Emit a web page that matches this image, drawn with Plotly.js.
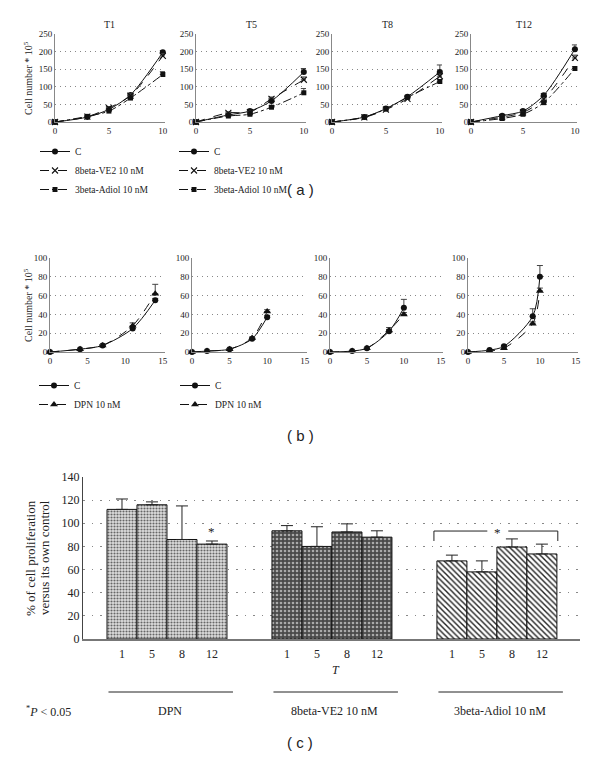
<!DOCTYPE html>
<html><head><meta charset="utf-8">
<script src="https://cdn.plot.ly/plotly-3.0.1.min.js"></script>
<style>html,body{margin:0;padding:0;background:#fff}#chart{width:600px;height:758px}</style>
</head><body><div id="chart"></div>
<script>
// ---------- Panel (a) data ----------
const daysA = [0, 3, 5, 7, 10];
const panelATitles = ['T1', 'T5', 'T8', 'T12'];
const aC     = [[0,14,36,77,198],[0,20,31,60,142],[0,14,38,72,142],[0,18,31,76,207]];
const aCErr  = [[0,2,3,4,5],[0,3,3,5,10],[0,2,3,4,20],[0,3,3,5,12]];
const aVE2   = [[0,15,40,75,188],[0,26,28,66,120],[0,13,35,66,130],[0,14,27,65,182]];
const aVE2Err= [[0,2,4,5,6],[0,3,3,5,8],[0,2,3,4,6],[0,2,3,4,8]];
const aAd    = [[0,16,31,68,135],[0,17,22,42,83],[0,14,37,70,115],[0,10,22,55,152]];
const aAdErr = [[0,2,3,4,8],[0,3,3,4,12],[0,2,3,4,5],[0,2,3,5,5]];
const namesA = ['C', '8beta-VE2 10 nM', '3beta-Adiol 10 nM'];

// ---------- Panel (b) data ----------
const daysB  = [[0,4,7,11,14],[0,2,5,8,10],[0,3,5,8,10],[0,3,5,9,10]];
const bC     = [[0,3,7,25,55],[0,1,3,14,37],[0,1,4,22,47],[0,2,6,38,80]];
const bCErr  = [[0,0.5,1,2,2],[0,0.3,0.5,1,2],[0,0.3,0.5,2,9],[0,0.5,1,8,12]];
const bDPN   = [[0,3,7,28,62],[0,1,3,15,43],[0,1,4,23,40],[0,1,4,30,65]];
const bDPNErr= [[0,0.5,1,3,10],[0,0.3,0.5,1,2],[0,0.3,0.5,3,2],[0,0.3,1,2,3]];
const namesB = ['C', 'DPN 10 nM'];

// ---------- Panel (c) data ----------
const groupsC = ['DPN', '8beta-VE2 10 nM', '3beta-Adiol 10 nM'];
const tLabels = ['1', '5', '8', '12'];
const dpnVals = [112, 116, 86, 82];
const dpnErr  = [9, 2.5, 29, 2.7];
const ve2Vals = [93.5, 80, 92.5, 88];
const ve2Err  = [4.5, 17, 7, 5.5];
const adVals  = [67.5, 58, 79.5, 73.5];
const adErr   = [5, 9.5, 7, 8.5];

// ---------- helpers ----------
const W = 600, H = 758;
const px = p => p / W;
const py = p => 1 - p / H;
const SERIF = 'Liberation Serif, Times New Roman, serif';
const SANS = 'Liberation Sans, Arial, sans-serif';
const zeros = a => a.map(() => 0);

const layout = {
  width: W, height: H,
  margin: {l: 0, r: 0, t: 0, b: 0},
  paper_bgcolor: '#fff', plot_bgcolor: 'rgba(0,0,0,0)',
  showlegend: true,
  font: {family: SERIF, color: '#222'},
  annotations: [], shapes: []
};
const data = [];
function note(o) {
  layout.annotations.push(Object.assign({xref: 'paper', yref: 'paper', showarrow: false,
    xanchor: 'center', yanchor: 'middle'}, o));
}

function xAxis(d0, d1, rng, tv, fs, anchor) {
  return {domain: [px(d0), px(d1)], range: rng, tickvals: tv, showgrid: false, zeroline: false,
    showline: true, linecolor: '#888', linewidth: 1, ticks: '', anchor: anchor,
    tickfont: {family: SERIF, size: fs, color: '#222'}, automargin: false, fixedrange: true};
}
function yAxis(t0, b0, rng, dt, fs, anchor) {
  return {domain: [py(b0), py(t0)], range: rng, dtick: dt, showgrid: true, gridcolor: '#888',
    griddash: '1px,4px', gridwidth: 1, zeroline: false, showline: true, linecolor: '#888', linewidth: 1,
    ticks: '', anchor: anchor, tickfont: {family: SERIF, size: fs, color: '#222'},
    automargin: false, fixedrange: true};
}

// ---------- Panel (a) ----------
const aXd = [[55,165],[196,306],[332,442],[471,577]];
const styleA = [
  {symbol: 'circle', size: 6, dash: 'solid'},
  {symbol: 'x-thin-open', size: 6, dash: 'dash'},
  {symbol: 'square', size: 5, dash: 'dashdot'}
];
for (let k = 0; k < 4; k++) {
  const xa = 'x' + (k + 1), ya = 'y' + (k + 1);
  layout['xaxis' + (k === 0 ? '' : k + 1)] = xAxis(aXd[k][0], aXd[k][1], [0, 10.2], [0, 5, 10], 9, ya);
  layout['yaxis' + (k === 0 ? '' : k + 1)] = yAxis(34, 122, [0, 250], 50, 9, xa);
  const series = [[aC[k], aCErr[k]], [aVE2[k], aVE2Err[k]], [aAd[k], aAdErr[k]]];
  series.forEach((s, j) => {
    const st = styleA[j];
    data.push({
      type: 'scatter', mode: 'lines+markers', x: daysA, y: s[0], xaxis: xa, yaxis: ya,
      name: namesA[j], cliponaxis: false,
      showlegend: k < 2, legend: k === 0 ? 'legend' : 'legend2',
      line: {color: '#111', width: 1, dash: st.dash, shape: 'spline', smoothing: 0.8},
      marker: {symbol: st.symbol, size: st.size, color: '#111', line: {color: '#111', width: j === 1 ? 1.1 : 0}},
      error_y: {type: 'data', symmetric: false, array: s[1], arrayminus: zeros(s[1]), color: '#444', thickness: 1, width: 3}
    });
  });
  note({text: panelATitles[k], x: px((aXd[k][0] + aXd[k][1]) / 2), y: py(25),
    font: {family: SERIF, size: 10, color: '#222'}});
}
note({text: 'Cell number * 10<sup>5</sup>', x: px(28), y: py(78), textangle: -90,
  font: {family: SERIF, size: 10, color: '#222'}});

// ---------- Panel (b) ----------
const bXd = [[50,165],[192,307],[330,443],[468,578]];
for (let k = 0; k < 4; k++) {
  const n = k + 5, xa = 'x' + n, ya = 'y' + n;
  layout['xaxis' + n] = xAxis(bXd[k][0], bXd[k][1], [0, 15.3], [0, 5, 10, 15], 9, ya);
  layout['yaxis' + n] = yAxis(258, 352, [0, 100], 20, 9, xa);
  const series = [[bC[k], bCErr[k]], [bDPN[k], bDPNErr[k]]];
  series.forEach((s, j) => {
    data.push({
      type: 'scatter', mode: 'lines+markers', x: daysB[k], y: s[0], xaxis: xa, yaxis: ya,
      name: namesB[j], cliponaxis: false,
      showlegend: k < 2, legend: k === 0 ? 'legend3' : 'legend4',
      line: {color: '#111', width: 1, dash: j === 0 ? 'solid' : 'dash', shape: 'spline', smoothing: 0.8},
      marker: {symbol: j === 0 ? 'circle' : 'triangle-up', size: j === 0 ? 6 : 7, color: '#111'},
      error_y: {type: 'data', symmetric: false, array: s[1], arrayminus: zeros(s[1]), color: '#444', thickness: 1, width: 3}
    });
  });
}
note({text: 'Cell number * 10<sup>5</sup>', x: px(28), y: py(305), textangle: -90,
  font: {family: SERIF, size: 10, color: '#222'}});

// legends
const legBase = {bgcolor: 'rgba(0,0,0,0)', borderwidth: 0, xanchor: 'left', yanchor: 'top',
  font: {family: SERIF, size: 9.5, color: '#222'}, itemwidth: 30, tracegroupgap: 0};
layout.legend  = Object.assign({}, legBase, {x: px(35), y: py(137)});
layout.legend2 = Object.assign({}, legBase, {x: px(174), y: py(137)});
layout.legend3 = Object.assign({}, legBase, {x: px(34), y: py(371)});
layout.legend4 = Object.assign({}, legBase, {x: px(175), y: py(371)});

// ---------- Panel (c) ----------
const GAP = 5.5;
const patterns = [
  {shape: '.', bgcolor: '#dedede', fgcolor: '#666', size: 3, solidity: 0.4},
  {shape: '.', bgcolor: '#4a4a4a', fgcolor: '#aaa', size: 4, solidity: 0.35},
  {shape: '\\', bgcolor: '#ffffff', fgcolor: '#222', size: 4, solidity: 0.35}
];
const cVals = [dpnVals, ve2Vals, adVals];
const cErrs = [dpnErr, ve2Err, adErr];
const allX = [], allT = [];
groupsC.forEach((g, gi) => {
  const xs = tLabels.map((_, i) => gi * GAP + i);
  xs.forEach((v, i) => { allX.push(v); allT.push(tLabels[i]); });
  data.push({
    type: 'bar', x: xs, y: cVals[gi], width: 1, name: g, showlegend: false,
    xaxis: 'x9', yaxis: 'y9',
    marker: {color: patterns[gi].bgcolor, line: {color: '#111', width: 1}, pattern: patterns[gi]},
    error_y: {type: 'data', symmetric: false, array: cErrs[gi], arrayminus: zeros(cErrs[gi]), color: '#222', thickness: 1, width: 6}
  });
  layout.shapes.push({type: 'line', xref: 'x9', yref: 'paper', x0: gi * GAP - 0.45, x1: gi * GAP + 3.7,
    y0: py(692), y1: py(692), line: {color: '#222', width: 1}});
  note({text: g, xref: 'x9', x: gi * GAP + 1.6, y: py(711), font: {family: SERIF, size: 12, color: '#222'}});
});
layout.xaxis9 = {domain: [px(83), px(580)], range: [-1.3, 15.27], tickvals: allX, ticktext: allT,
  showgrid: false, zeroline: false, showline: true, linecolor: '#777', linewidth: 1.5,
  ticks: 'outside', ticklen: 3, tickcolor: 'rgba(0,0,0,0)', anchor: 'y9',
  tickfont: {family: SERIF, size: 12, color: '#222'}, automargin: false, fixedrange: true};
layout.yaxis9 = {domain: [py(639), py(477)], range: [0, 140], dtick: 20, showgrid: true, gridcolor: '#888',
  griddash: '1.5px,7px', zeroline: false, showline: true, linecolor: '#444', linewidth: 1, ticks: '',
  anchor: 'x9', tickfont: {family: SERIF, size: 12, color: '#222'}, automargin: false, fixedrange: true};
layout.bargap = 0;

// significance markers
note({text: '*', xref: 'x9', yref: 'y9', x: 3, y: 85, yanchor: 'bottom',
  font: {family: SERIF, size: 13, color: '#222'}});
const bx0 = 2 * GAP - 0.6, bx1 = 2 * GAP + 3.53, bTop = 93.3, bBot = 84.7, bMid = 2 * GAP + 1.53;
layout.shapes.push({type: 'path', xref: 'x9', yref: 'y9',
  path: `M ${bx0} ${bBot} L ${bx0} ${bTop} L ${bMid - 0.35} ${bTop}`, line: {color: '#222', width: 1}});
layout.shapes.push({type: 'path', xref: 'x9', yref: 'y9',
  path: `M ${bMid + 0.35} ${bTop} L ${bx1} ${bTop} L ${bx1} ${bBot}`, line: {color: '#222', width: 1}});
note({text: '*', xref: 'x9', yref: 'y9', x: bMid, y: bTop - 1.5, font: {family: SERIF, size: 13, color: '#222'}});

note({text: '<i>T</i>', x: px(336), y: py(670), font: {family: SERIF, size: 12, color: '#222'}});
note({text: '<sup>*</sup><i>P</i> < 0.05', x: px(24), y: py(711), xanchor: 'left',
  font: {family: SERIF, size: 12, color: '#222'}});
note({text: '% of cell proliferation', x: px(30), y: py(558), textangle: -90,
  font: {family: SERIF, size: 13, color: '#222'}});
note({text: 'versus its own control', x: px(44), y: py(558), textangle: -90,
  font: {family: SERIF, size: 13, color: '#222'}});

// panel labels
[['( a )', 189], ['( b )', 435], ['( c )', 742]].forEach(p => {
  note({text: p[0], x: 0.5, y: py(p[1]), font: {family: SANS, size: 15, color: '#222'}});
});

Plotly.newPlot('chart', data, layout, {staticPlot: true, displayModeBar: false});
</script>
</body></html>
